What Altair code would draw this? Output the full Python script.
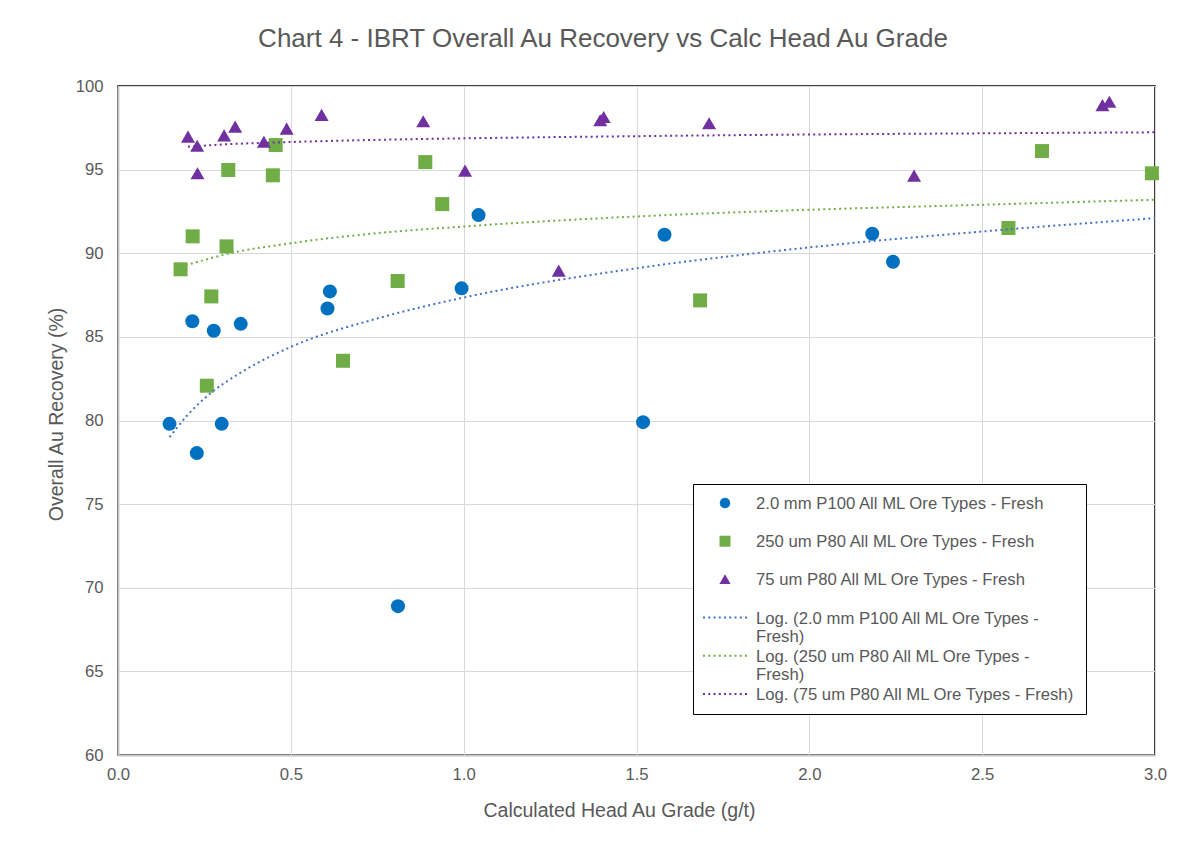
import altair as alt
import pandas as pd

# ---------------- data ----------------
series_names = [
    "2.0 mm P100 All ML Ore Types - Fresh",
    "250 um P80 All ML Ore Types - Fresh",
    "75 um P80 All ML Ore Types - Fresh",
]
trend_names = ["Log. (" + n + ")" for n in series_names]

blue_x = [0.149, 0.215, 0.228, 0.277, 0.300, 0.355, 0.606, 0.613, 0.810, 0.994,
          1.043, 1.519, 1.581, 2.182, 2.242]
blue_y = [79.80, 85.93, 78.05, 85.37, 79.80, 85.78, 86.70, 87.72, 68.90, 87.90,
          92.28, 79.90, 91.11, 91.17, 89.49]

green_x = [0.181, 0.216, 0.257, 0.270, 0.314, 0.319, 0.448, 0.456, 0.651, 0.809,
           0.889, 0.938, 1.684, 2.576, 2.673, 2.991]
green_y = [89.04, 91.01, 82.08, 87.42, 90.41, 94.98, 94.66, 96.47, 83.57, 88.34,
           95.45, 92.94, 87.18, 91.51, 96.11, 94.78]

purple_x = [0.2025, 0.229, 0.230, 0.307, 0.339, 0.422, 0.488, 0.589, 0.883, 1.004,
            1.275, 1.395, 1.405, 1.710, 2.303, 2.848, 2.868]
purple_y = [96.97, 96.43, 94.78, 97.05, 97.57, 96.67, 97.45, 98.27, 97.89, 94.94,
            88.96, 97.95, 98.15, 97.77, 94.64, 98.86, 99.06]

# trend lines as drawn in the picture
blue_trend_x = [0.149, 0.2, 0.266, 0.35, 0.5, 0.75, 1.0, 1.5, 2.0, 2.5, 3.0]
blue_trend_y = [79.0, 80.3, 81.6, 82.8, 84.4, 86.1, 87.35, 89.1, 90.35, 91.3, 92.1]
green_trend_x = [0.181, 0.25, 0.314, 0.5, 0.75, 1.0, 1.5, 2.0, 2.5, 3.0]
green_trend_y = [89.2, 89.6, 89.95, 90.6, 91.2, 91.6, 92.2, 92.6, 92.9, 93.2]
purple_trend_x = [0.2025, 0.3, 0.5, 0.75, 1.0, 1.5, 2.0, 2.5, 3.0]
purple_trend_y = [96.37, 96.5, 96.65, 96.78, 96.87, 97.0, 97.1, 97.17, 97.23]

x_domain = [0.0, 3.0]
y_domain = [60, 100]
x_ticks = [0.0, 0.5, 1.0, 1.5, 2.0, 2.5, 3.0]
y_ticks = [60, 65, 70, 75, 80, 85, 90, 95, 100]

# ---------------- styles ----------------
point_colors = ["#0070C0", "#70AD47", "#7030A0"]
trend_colors = ["#4472C4", "#70AD47", "#7030A0"]
point_shapes = ["circle", "square", "triangle-up"]
FONT = "Liberation Sans"
TEXT = "#595959"
LABEL_DY = 6

# legend symbols: custom paths in units of 9 px around a centre 9 px from the left
U = 9.0
SHIFT = 13.0  # px from symbol centre to the centre of the 44 px line


def u(px):
    return f"{px / U:.4f}"


def circle_path(r):
    c = SHIFT
    return (f"M{u(c + r)},0A{u(r)},{u(r)},0,1,1,{u(c - r)},0"
            f"A{u(r)},{u(r)},0,1,1,{u(c + r)},0Z")


def square_path(h):
    c = SHIFT
    return f"M{u(c - h)},{u(-h)}H{u(c + h)}V{u(h)}H{u(c - h)}Z"


def triangle_path(h, top, bottom):
    c = SHIFT
    return f"M{u(c)},{u(-top)}L{u(c + h)},{u(bottom)}L{u(c - h)},{u(bottom)}Z"


def dotted_path(n=9, step=5.25, w=2.0):
    parts = []
    for k in range(n):
        x0 = -9 + k * step
        parts.append(f"M{u(x0)},{u(-w / 2)}h{u(w)}v{u(w)}h{u(-w)}z")
    return "".join(parts)


legend_shapes = [
    circle_path(5.2),
    square_path(5.5),
    triangle_path(5.6, 5.2, 4.6),
    dotted_path(), dotted_path(), dotted_path(),
]

rows = []
for name, xs, ys in zip(series_names, [blue_x, green_x, purple_x],
                        [blue_y, green_y, purple_y]):
    for x, y in zip(xs, ys):
        rows.append({"grade": x, "recovery": y, "series": name})
df = pd.DataFrame(rows)

trows = []
for name, xs, ys in zip(trend_names, [blue_trend_x, green_trend_x, purple_trend_x],
                        [blue_trend_y, green_trend_y, purple_trend_y]):
    for x, y in zip(xs, ys):
        trows.append({"grade": x, "recovery": y, "trend": name})
tdf = pd.DataFrame(trows)

x_enc = alt.X("grade:Q", scale=alt.Scale(domain=x_domain, nice=False),
              axis=alt.Axis(values=x_ticks, format=".1f",
                            title="Calculated Head Au Grade (g/t)",
                            labelPadding=11 - LABEL_DY, labelFlush=False,
                            titleX=501, titleY=55, titleBaseline="middle"))
y_enc = alt.Y("recovery:Q", scale=alt.Scale(domain=y_domain, nice=False, zero=False),
              axis=alt.Axis(values=y_ticks, format="d",
                            title="Overall Au Recovery (%)",
                            labelPadding=15, labelFlush=False, labelOffset=-LABEL_DY,
                            titleX=-62, titleY=328,
                            titleBaseline="middle", titleAngle=-90))

points = alt.Chart(df).mark_point(filled=True, opacity=1, size=196).encode(
    x=x_enc, y=y_enc,
    color=alt.Color("series:N", scale=alt.Scale(domain=series_names, range=point_colors),
                    legend=None),
    shape=alt.Shape("series:N", scale=alt.Scale(domain=series_names, range=point_shapes),
                    legend=None),
)

lines = alt.Chart(tdf).mark_line(strokeDash=[2, 3.3], strokeWidth=2,
                                 interpolate="monotone").encode(
    x=x_enc, y=y_enc,
    color=alt.Color("trend:N", scale=alt.Scale(domain=trend_names, range=trend_colors),
                    legend=None),
)

legend_df = pd.DataFrame({"name": series_names + trend_names})
all_names = series_names + trend_names
legend_layer = (
    alt.Chart(legend_df)
    .transform_filter("false")
    .mark_point(filled=True, opacity=1)
    .encode(
        color=alt.Color("name:N",
                        scale=alt.Scale(domain=all_names, range=point_colors + trend_colors),
                        legend=alt.Legend(
                            title=None, orient="none", legendX=575, legendY=398,
                            fillColor="white", strokeColor="black", padding=10,
                            labelFont=FONT, labelFontSize=16.7, labelColor=TEXT,
                            labelLimit=600, symbolSize=324, labelOffset=35,
                            symbolStrokeWidth=0, symbolOpacity=1, rowPadding=1.2,
                            gridAlign="all", labelBaseline="alphabetic",
                            labelExpr="length(datum.label) > 41 ? [slice(datum.label, 0, lastindexof(datum.label, ' ')), slice(datum.label, lastindexof(datum.label, ' ') + 1)] : datum.label",
                        )),
        shape=alt.Shape("name:N",
                        scale=alt.Scale(domain=all_names, range=legend_shapes)),
    )
)

chart = (
    alt.layer(points, lines, legend_layer)
    .resolve_scale(color="independent", shape="independent")
    .properties(
        width=1037, height=669, autosize="none",
        padding={"left": 110, "top": 78, "right": 40, "bottom": 80},
        title=alt.Title("Chart 4 - IBRT Overall Au Recovery vs Calc Head Au Grade",
                        font=FONT, fontSize=26, fontWeight="normal", color=TEXT,
                        anchor="middle", dx=-33.5, offset=5.5, baseline="alphabetic"),
    )
    .configure(background="white",
               style={"guide-label": {"lineHeight": 18, "dy": LABEL_DY}})
    .configure_view(stroke="black", strokeWidth=1.5)
    .configure_axis(
        grid=True, gridColor="#d9d9d9", gridWidth=1,
        domainColor="#c8c8c8", domainWidth=2,
        ticks=False, tickSize=0,
        labelFont=FONT, labelFontSize=16.7, labelColor=TEXT,
        titleFont=FONT, titleFontSize=19.5, titleColor=TEXT, titleFontWeight="normal",
    )
)

chart.save("out.html", embed_options={"renderer": "svg", "actions": False})
